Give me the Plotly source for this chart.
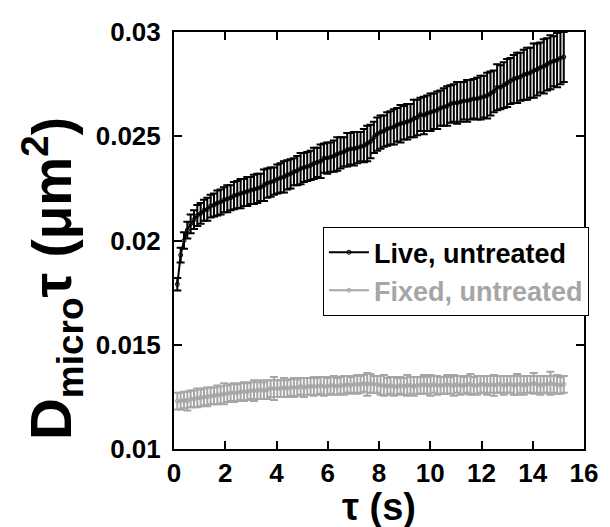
import plotly.graph_objects as go

# lag time tau (s)
tau = [0.13, 0.26, 0.39, 0.52, 0.65, 0.78, 0.91, 1.04, 1.17, 1.30,
       1.43, 1.56, 1.69, 1.82, 1.95, 2.08, 2.21, 2.34, 2.47, 2.60,
       2.73, 2.86, 2.99, 3.12, 3.25, 3.38, 3.51, 3.64, 3.77, 3.90,
       4.03, 4.16, 4.29, 4.42, 4.55, 4.68, 4.81, 4.94, 5.07, 5.20,
       5.33, 5.46, 5.59, 5.72, 5.85, 5.98, 6.11, 6.24, 6.37, 6.50,
       6.63, 6.76, 6.89, 7.02, 7.15, 7.28, 7.41, 7.54, 7.67, 7.80,
       7.93, 8.06, 8.19, 8.32, 8.45, 8.58, 8.71, 8.84, 8.97, 9.10,
       9.23, 9.36, 9.49, 9.62, 9.75, 9.88, 10.01, 10.14, 10.27, 10.40,
       10.53, 10.66, 10.79, 10.92, 11.05, 11.18, 11.31, 11.44, 11.57, 11.70,
       11.83, 11.96, 12.09, 12.22, 12.35, 12.48, 12.61, 12.74, 12.87, 13.00,
       13.13, 13.26, 13.39, 13.52, 13.65, 13.78, 13.91, 14.04, 14.17, 14.30,
       14.43, 14.56, 14.69, 14.82, 14.95, 15.08, 15.21]

live = [0.01790, 0.01930, 0.02000, 0.02050, 0.02080, 0.02100, 0.02120, 0.02130, 0.02145, 0.02150,
        0.02165, 0.02170, 0.02180, 0.02185, 0.02195, 0.02200, 0.02205, 0.02215, 0.02220, 0.02225,
        0.02230, 0.02235, 0.02240, 0.02245, 0.02250, 0.02255, 0.02265, 0.02275, 0.02280, 0.02285,
        0.02295, 0.02300, 0.02305, 0.02315, 0.02320, 0.02330, 0.02335, 0.02345, 0.02350, 0.02355,
        0.02360, 0.02370, 0.02375, 0.02380, 0.02395, 0.02395, 0.02400, 0.02405, 0.02415, 0.02420,
        0.02425, 0.02435, 0.02440, 0.02440, 0.02445, 0.02450, 0.02455, 0.02465, 0.02475, 0.02495,
        0.02510, 0.02520, 0.02525, 0.02535, 0.02540, 0.02545, 0.02555, 0.02560, 0.02565, 0.02570,
        0.02575, 0.02585, 0.02590, 0.02605, 0.02600, 0.02610, 0.02615, 0.02620, 0.02625, 0.02635,
        0.02640, 0.02645, 0.02655, 0.02660, 0.02660, 0.02665, 0.02670, 0.02670, 0.02675, 0.02680,
        0.02680, 0.02685, 0.02690, 0.02695, 0.02705, 0.02715, 0.02735, 0.02735, 0.02745, 0.02755,
        0.02765, 0.02775, 0.02780, 0.02785, 0.02795, 0.02800, 0.02805, 0.02815, 0.02820, 0.02830,
        0.02835, 0.02845, 0.02855, 0.02860, 0.02865, 0.02875, 0.02880]

live_err = [0.00030, 0.00035, 0.00040, 0.00040, 0.00045, 0.00045, 0.00050, 0.00050, 0.00050, 0.00055,
            0.00055, 0.00055, 0.00060, 0.00060, 0.00060, 0.00065, 0.00060, 0.00065, 0.00065, 0.00070,
            0.00065, 0.00070, 0.00065, 0.00070, 0.00070, 0.00065, 0.00075, 0.00070, 0.00070, 0.00065,
            0.00070, 0.00070, 0.00075, 0.00070, 0.00070, 0.00065, 0.00070, 0.00075, 0.00070, 0.00070,
            0.00070, 0.00075, 0.00070, 0.00080, 0.00070, 0.00075, 0.00070, 0.00075, 0.00080, 0.00075,
            0.00070, 0.00080, 0.00075, 0.00080, 0.00075, 0.00070, 0.00080, 0.00085, 0.00080, 0.00075,
            0.00080, 0.00080, 0.00075, 0.00080, 0.00080, 0.00085, 0.00080, 0.00090, 0.00080, 0.00085,
            0.00080, 0.00090, 0.00085, 0.00080, 0.00090, 0.00085, 0.00090, 0.00085, 0.00090, 0.00085,
            0.00090, 0.00095, 0.00090, 0.00090, 0.00100, 0.00095, 0.00090, 0.00100, 0.00095, 0.00095,
            0.00100, 0.00105, 0.00100, 0.00110, 0.00105, 0.00100, 0.00110, 0.00105, 0.00110, 0.00115,
            0.00110, 0.00115, 0.00120, 0.00115, 0.00120, 0.00125, 0.00120, 0.00130, 0.00125, 0.00120,
            0.00130, 0.00125, 0.00130, 0.00120, 0.00130, 0.00125, 0.00120]

fixed = [0.01230, 0.01230, 0.01235, 0.01230, 0.01240, 0.01240, 0.01245, 0.01245, 0.01250, 0.01250,
         0.01255, 0.01255, 0.01260, 0.01260, 0.01265, 0.01265, 0.01270, 0.01270, 0.01270, 0.01275,
         0.01275, 0.01275, 0.01280, 0.01280, 0.01280, 0.01285, 0.01280, 0.01285, 0.01290, 0.01290,
         0.01290, 0.01290, 0.01295, 0.01290, 0.01295, 0.01295, 0.01295, 0.01300, 0.01295, 0.01300,
         0.01300, 0.01300, 0.01300, 0.01305, 0.01300, 0.01300, 0.01305, 0.01305, 0.01300, 0.01305,
         0.01305, 0.01310, 0.01305, 0.01310, 0.01310, 0.01310, 0.01315, 0.01310, 0.01315, 0.01310,
         0.01310, 0.01305, 0.01305, 0.01300, 0.01305, 0.01300, 0.01300, 0.01305, 0.01300, 0.01305,
         0.01305, 0.01300, 0.01305, 0.01305, 0.01310, 0.01305, 0.01305, 0.01310, 0.01305, 0.01305,
         0.01305, 0.01310, 0.01305, 0.01305, 0.01310, 0.01305, 0.01305, 0.01310, 0.01310, 0.01305,
         0.01305, 0.01310, 0.01310, 0.01305, 0.01310, 0.01305, 0.01310, 0.01310, 0.01305, 0.01310,
         0.01310, 0.01305, 0.01310, 0.01310, 0.01305, 0.01310, 0.01310, 0.01315, 0.01310, 0.01305,
         0.01310, 0.01310, 0.01315, 0.01310, 0.01310, 0.01305, 0.01310]

fixed_err = [0.00040, 0.00040, 0.00040, 0.00045, 0.00040, 0.00040, 0.00045, 0.00040, 0.00040, 0.00045,
             0.00040, 0.00040, 0.00045, 0.00040, 0.00050, 0.00040, 0.00040, 0.00045, 0.00040, 0.00040,
             0.00045, 0.00040, 0.00040, 0.00050, 0.00040, 0.00045, 0.00040, 0.00045, 0.00040, 0.00055,
             0.00040, 0.00040, 0.00045, 0.00040, 0.00040, 0.00045, 0.00040, 0.00040, 0.00045, 0.00040,
             0.00040, 0.00045, 0.00040, 0.00040, 0.00045, 0.00040, 0.00040, 0.00045, 0.00040, 0.00040,
             0.00045, 0.00040, 0.00040, 0.00040, 0.00045, 0.00040, 0.00040, 0.00055, 0.00045, 0.00040,
             0.00040, 0.00045, 0.00050, 0.00040, 0.00040, 0.00045, 0.00040, 0.00040, 0.00040, 0.00050,
             0.00040, 0.00045, 0.00040, 0.00040, 0.00045, 0.00040, 0.00050, 0.00040, 0.00045, 0.00040,
             0.00040, 0.00045, 0.00040, 0.00050, 0.00040, 0.00045, 0.00040, 0.00040, 0.00050, 0.00040,
             0.00045, 0.00040, 0.00040, 0.00045, 0.00040, 0.00050, 0.00040, 0.00040, 0.00045, 0.00040,
             0.00040, 0.00045, 0.00050, 0.00040, 0.00045, 0.00040, 0.00040, 0.00050, 0.00040, 0.00045,
             0.00040, 0.00040, 0.00055, 0.00040, 0.00045, 0.00040, 0.00040]

series_names = ["Live, untreated", "Fixed, untreated"]
x_ticks = [0, 2, 4, 6, 8, 10, 12, 14, 16]
y_ticks = [0.01, 0.015, 0.02, 0.025, 0.03]
y_tick_labels = ["0.01", "0.015", "0.02", "0.025", "0.03"]

BLACK = "#000000"
GRAY = "#a6a6a6"
FONT = "Liberation Sans, Arial, sans-serif"

fig = go.Figure()
fig.add_trace(go.Scatter(
    x=tau, y=fixed, mode="lines+markers", name=f"<span style='color:{GRAY}'>{series_names[1]}</span>",
    line=dict(color=GRAY, width=2),
    marker=dict(symbol="circle-open", size=4, color=GRAY, line=dict(width=1)),
    error_y=dict(type="data", array=fixed_err, visible=True, color=GRAY, thickness=2, width=4),
))
fig.add_trace(go.Scatter(
    x=tau, y=live, mode="lines+markers", name=series_names[0],
    line=dict(color=BLACK, width=2),
    marker=dict(symbol="circle-open", size=4, color=BLACK, line=dict(width=1)),
    error_y=dict(type="data", array=live_err, visible=True, color=BLACK, thickness=2, width=4),
))

axis_common = dict(
    showline=True, linecolor="black", linewidth=2, mirror="ticks",
    ticks="inside", ticklen=8, tickwidth=2, tickcolor="black",
    showgrid=False, zeroline=False,
    tickfont=dict(family=FONT, size=26, color="black", weight="bold"),
)
fig.update_xaxes(range=[0, 16], tickvals=x_ticks, **axis_common)
fig.update_yaxes(range=[0.01, 0.03], tickvals=y_ticks, ticktext=y_tick_labels,
                 ticklabelstandoff=6, **axis_common)

fig.update_layout(
    width=610, height=527,
    margin=dict(l=174, r=18, t=32, b=78),
    plot_bgcolor="white", paper_bgcolor="white",
    font=dict(family=FONT, color="black", weight="bold"),
    showlegend=True,
    legend=dict(
        x=1.012, xanchor="right", y=0.532, yanchor="top",
        bgcolor="white", bordercolor="black", borderwidth=1,
        font=dict(family=FONT, size=27, color="black", weight="bold"),
        traceorder="reversed", itemwidth=40,
    ),
    annotations=[
        dict(xref="paper", yref="paper", x=0.5, y=-0.14, xanchor="center", yanchor="middle",
             text="τ (s)", showarrow=False,
             font=dict(family=FONT, size=38, color="black", weight="bold")),
        dict(xref="paper", yref="paper", x=-0.297, y=0.408, xanchor="center", yanchor="middle",
             textangle=-90, showarrow=False,
             text=("<span style='font-size:58px'>D</span>"
                   "<sub><span style='font-size:37px'>micro</span></sub>τ (μm<sup>2</sup>)"),
             font=dict(family=FONT, size=55, color="black", weight="bold")),
    ],
)

fig.write_html("out.html", config={"displayModeBar": False},
               post_script="document.body.style.margin='0px';")
